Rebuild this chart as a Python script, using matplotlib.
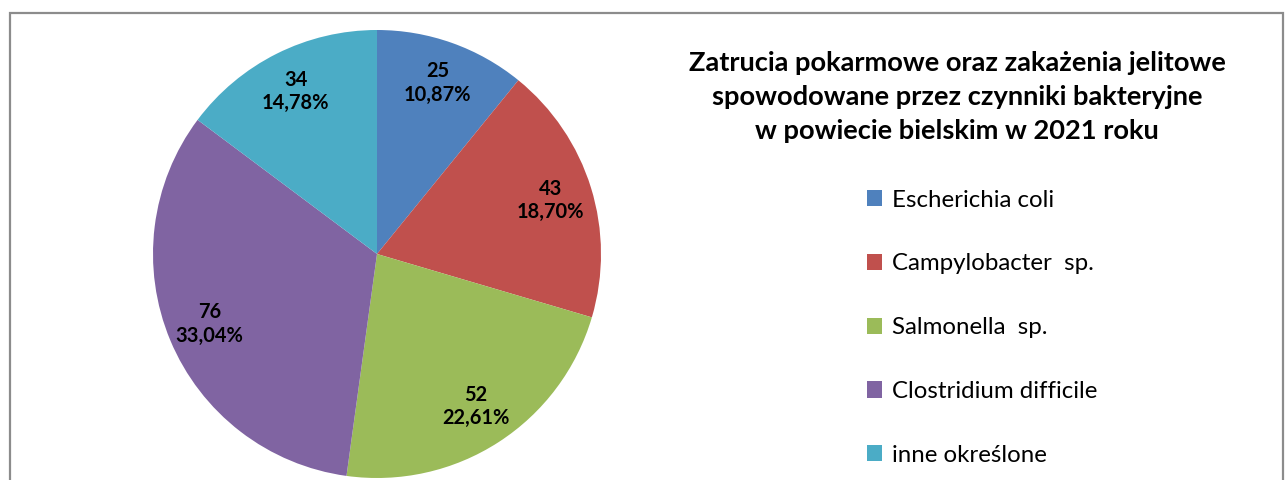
import matplotlib
matplotlib.use('Agg')
import matplotlib.pyplot as plt
from matplotlib.patches import Rectangle

categories = ['Escherichia coli', 'Campylobacter  sp.', 'Salmonella  sp.',
              'Clostridium difficile', 'inne określone']
values = [25, 43, 52, 76, 34]
colors = ['#4F81BD', '#C0504D', '#9BBB59', '#8064A2', '#4BACC6']
title = ('Zatrucia pokarmowe oraz zakażenia jelitowe\n'
         'spowodowane przez czynniki bakteryjne\n'
         'w powiecie bielskim w 2021 roku')

plt.rcParams['font.family'] = ['Lato', 'DejaVu Sans']

W, H = 1285, 480
fig = plt.figure(figsize=(W / 100, H / 100), dpi=100)

# outer border (cut off at the bottom)
fig.patches.append(Rectangle((9.5 / W, -0.1), (1283 - 9.5) / W, 1.1 - 13.5 / H,
                             transform=fig.transFigure, fill=False,
                             edgecolor='#8c8c8c', lw=1.6))

cx, cy, r = 377, 254, 224
ax = fig.add_axes([(cx - r) / W, (H - cy - r) / H, 2 * r / W, 2 * r / H])
total = sum(values)


def fmt(p):
    return f'{round(p * total / 100)}\n{p:.2f}%'.replace('.', ',')


wedges, texts, autotexts = ax.pie(values, colors=colors, startangle=90,
                                  counterclock=False, autopct=fmt,
                                  pctdistance=0.81,
                                  textprops=dict(fontsize=14.4, fontweight='bold',
                                                 linespacing=1.2))
ax.set_xlim(-1, 1)
ax.set_ylim(-1, 1)

fig.text(957 / W, 1 - 97 / H, title, ha='center', va='center',
         fontsize=19.6, fontweight='bold', linespacing=1.5)

fig.legend(wedges, categories, loc='upper left',
           bbox_to_anchor=(845 / W, 1 - 168 / H), frameon=False,
           fontsize=17.3, handlelength=0.65, handleheight=0.65,
           handletextpad=0.4, labelspacing=1.78)

fig.savefig('out.png', dpi=100)
